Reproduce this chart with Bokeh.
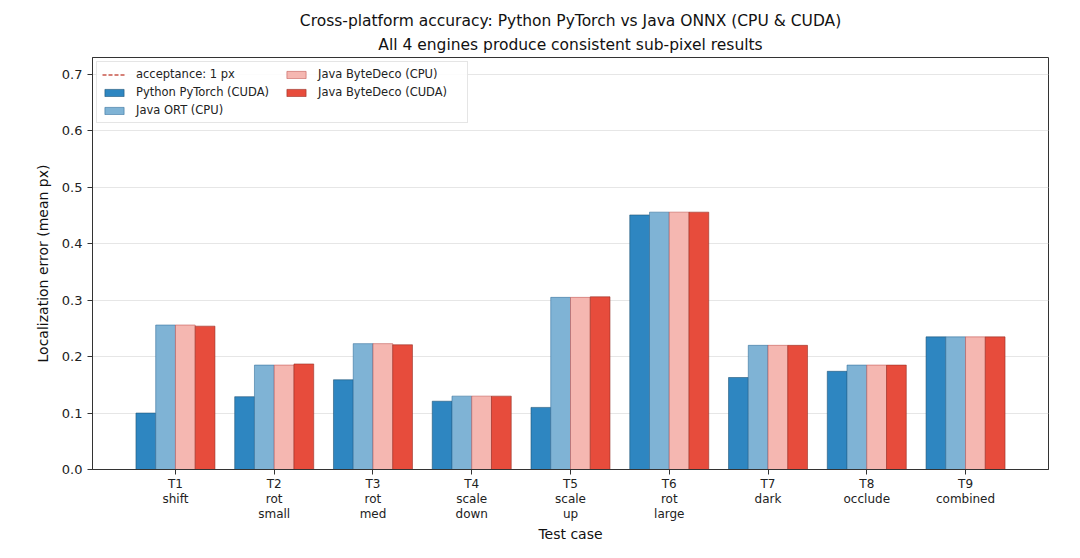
import numpy as np
from bokeh.plotting import figure
from bokeh.models import FixedTicker, Range1d, Title, Legend, LegendItem, CustomJSTickFormatter
from bokeh.embed import file_html
from bokeh.resources import INLINE

tests = ["T1\nshift", "T2\nrot\nsmall", "T3\nrot\nmed", "T4\nscale\ndown", "T5\nscale\nup",
         "T6\nrot\nlarge", "T7\ndark", "T8\nocclude", "T9\ncombined"]
python_cuda = [0.100, 0.129, 0.159, 0.121, 0.110, 0.451, 0.163, 0.174, 0.235]
java_ort_cpu = [0.256, 0.185, 0.223, 0.130, 0.305, 0.456, 0.220, 0.185, 0.235]
bytedeco_cpu = [0.256, 0.185, 0.223, 0.130, 0.305, 0.456, 0.220, 0.185, 0.235]
bytedeco_cuda = [0.254, 0.187, 0.221, 0.130, 0.306, 0.456, 0.220, 0.185, 0.235]
y_ticks = [0.0, 0.1, 0.2, 0.3, 0.4, 0.5, 0.6, 0.7]
acceptance = 1.0

series = [
    ("Python PyTorch (CUDA)", python_cuda, "#2E86C1", "#1B4F72"),
    ("Java ORT (CPU)", java_ort_cpu, "#7FB3D5", "#2E6C99"),
    ("Java ByteDeco (CPU)", bytedeco_cpu, "#F5B7B1", "#C0504D"),
    ("Java ByteDeco (CUDA)", bytedeco_cuda, "#E74C3C", "#922B21"),
]

FONT = "DejaVu Sans"
n = len(tests)
idx = np.arange(n)
w = 0.2

p = figure(width=1080, height=558, output_backend="svg", toolbar_location=None,
           x_range=Range1d(-0.84, 8.84), y_range=Range1d(0, 0.73),
           min_border_left=92, min_border_right=32, min_border_top=57, min_border_bottom=89)
p.background_fill_color = "white"
p.border_fill_color = "white"
p.outline_line_color = "#333333"
p.outline_line_width = 1

t2 = Title(text="All 4 engines produce consistent sub-pixel results", align="center",
           text_font=FONT, text_font_size="15.5px", text_font_style="normal", text_color="#111111",
           standoff=8)
t1 = Title(text="Cross-platform accuracy: Python PyTorch vs Java ONNX (CPU & CUDA)", align="center",
           text_font=FONT, text_font_size="15.5px", text_font_style="normal", text_color="#111111",
           standoff=0)
p.add_layout(t2, "above")
p.add_layout(t1, "above")

items = []
acc = p.line(x=[-2, 12], y=[acceptance, acceptance], line_color="#C0392B", line_dash="4 2",
             line_width=1.5, line_alpha=0.85)
items.append(LegendItem(label="acceptance: 1 px", renderers=[acc]))
for k, (name, vals, fill, edge) in enumerate(series):
    off = (k - 1.5) * w
    r = p.vbar(x=idx + off, top=vals, width=w, bottom=0, fill_color=fill, line_color=edge,
               line_width=0.7, line_alpha=0.8)
    items.append(LegendItem(label=name, renderers=[r]))

leg = Legend(items=items, location="top_left", nrows=3, orientation="vertical",
             label_text_font=FONT, label_text_font_size="11.5px", label_text_color="#222222",
             glyph_width=24, glyph_height=9, label_height=13, label_width=144, label_standoff=10,
             spacing=4, padding=5, margin=4, border_line_color="#cccccc", border_line_width=1,
             background_fill_alpha=0.85)
p.add_layout(leg)

p.xaxis.ticker = FixedTicker(ticks=list(idx))
p.xaxis.major_label_overrides = {int(i): t for i, t in zip(idx, tests)}
p.yaxis.ticker = FixedTicker(ticks=y_ticks)
p.yaxis.formatter = CustomJSTickFormatter(code="return tick.toFixed(1);")

for ax in (p.xaxis[0], p.yaxis[0]):
    ax.major_label_text_font = FONT
    ax.major_label_text_color = "#222222"
    ax.axis_label_text_font = FONT
    ax.axis_label_text_font_size = "14px"
    ax.axis_label_text_font_style = "normal"
    ax.axis_label_text_color = "#111111"
    ax.axis_line_color = "#333333"
    ax.major_tick_line_color = "#333333"
    ax.major_tick_out = 5
    ax.major_tick_in = 0
    ax.minor_tick_line_color = None
p.xaxis.major_label_text_font_size = "12px"
p.xaxis.major_label_text_line_height = 1.1
p.yaxis.major_label_text_font_size = "13px"
p.xaxis.axis_label = "Test case"
p.yaxis.axis_label = "Localization error (mean px)"
p.xaxis.major_label_standoff = 2
p.yaxis.major_label_standoff = 5
p.xaxis.axis_label_standoff = 2
p.yaxis.axis_label_standoff = 8

p.xgrid.grid_line_color = None
p.ygrid.grid_line_color = "#e6e6e6"
p.ygrid.grid_line_width = 1

open("out.html", "w").write(file_html(p, INLINE))
